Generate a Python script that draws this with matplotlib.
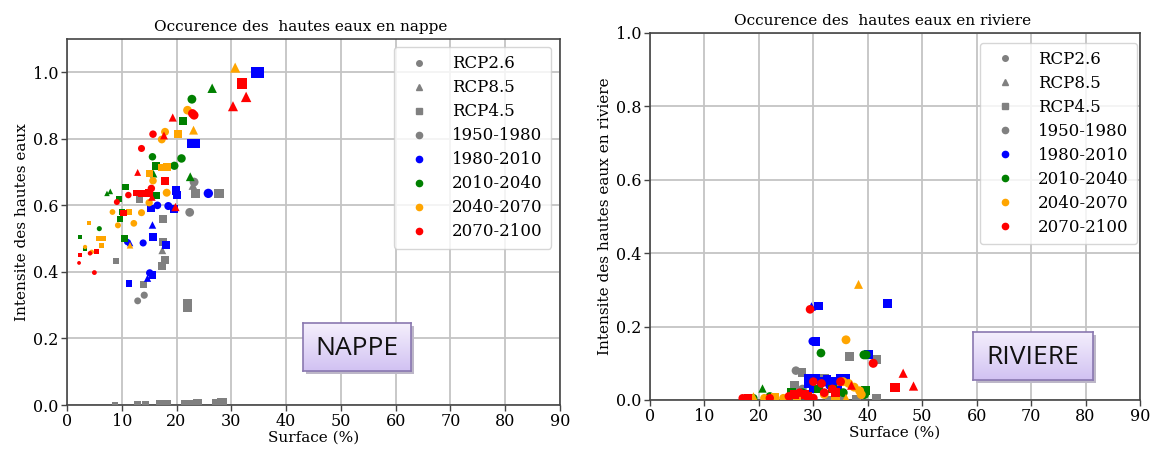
import matplotlib
matplotlib.use("Agg")
import matplotlib.pyplot as plt
import numpy as np
from matplotlib.lines import Line2D

# ---------------- data ----------------
periods = ["1950-1980", "1980-2010", "2010-2040", "2040-2070", "2070-2100"]
period_colors = ["grey", "blue", "green", "orange", "red"]
scenarios = ["RCP2.6", "RCP8.5", "RCP4.5"]
scenario_markers = {"RCP2.6": "o", "RCP8.5": "^", "RCP4.5": "s"}

# NAPPE panel : surface (%), intensity, scenario code (o=RCP2.6, ^=RCP8.5, s=RCP4.5)
nappe_1950_x = [23.2, 23.0, 23.4, 27.8, 13.2, 22.4, 17.6, 8.9, 17.5, 17.4, 17.9, 17.4, 13.9, 14.1, 12.9, 22.0, 22.0,
                8.8, 12.8, 14.3, 17.0, 18.3, 21.6, 22.5, 23.8, 27.4, 28.3]
nappe_1950_y = [0.670, 0.660, 0.636, 0.636, 0.619, 0.579, 0.559, 0.432, 0.490, 0.465, 0.435, 0.417, 0.363, 0.330, 0.313, 0.307, 0.293,
                0.000, 0.002, 0.002, 0.002, 0.002, 0.002, 0.002, 0.004, 0.005, 0.005]
nappe_1950_s = "o^sssosss^sssoosssssssssss" + "s"

nappe_1980_x = [34.5, 34.9, 22.8, 23.5, 19.9, 20.1, 25.8, 15.3, 16.5, 18.5, 19.6, 15.6, 11.0, 11.5, 13.9, 15.7, 18.1, 15.6, 15.1, 14.7, 11.3]
nappe_1980_y = [1.000, 1.000, 0.786, 0.786, 0.645, 0.632, 0.636, 0.590, 0.600, 0.598, 0.589, 0.541, 0.490, 0.487, 0.487, 0.505, 0.480, 0.390, 0.397, 0.381, 0.365]
nappe_1980_s = "sssssso" + "soos^o^ossso^s"

nappe_2010_x = [26.5, 22.8, 21.2, 15.6, 20.9, 19.6, 16.2, 15.8, 22.5, 7.3, 7.9, 10.7, 16.2, 9.5, 10.0, 9.6, 2.4, 10.5, 3.3, 5.9]
nappe_2010_y = [0.952, 0.919, 0.854, 0.746, 0.741, 0.719, 0.718, 0.695, 0.686, 0.636, 0.642, 0.656, 0.630, 0.619, 0.580, 0.560, 0.505, 0.500, 0.470, 0.530]
nappe_2010_s = "^osooos^^^^sssssssso"

nappe_2040_x = [30.7, 22.0, 23.1, 20.3, 17.9, 17.3, 17.4, 18.3, 15.1, 15.7, 18.2, 15.0, 13.6, 11.3, 8.3, 12.2, 9.3, 4.0, 5.7, 6.6, 3.3, 4.5, 6.3, 11.5]
nappe_2040_y = [1.014, 0.886, 0.826, 0.814, 0.821, 0.798, 0.714, 0.714, 0.696, 0.674, 0.638, 0.608, 0.578, 0.580, 0.580, 0.546, 0.540, 0.547, 0.500, 0.500, 0.475, 0.460, 0.480, 0.480]
nappe_2040_s = "^o^soosssoooosooossso" + "os^"

nappe_2070_x = [31.9, 32.7, 30.3, 23.2, 22.9, 19.3, 15.7, 17.7, 13.6, 12.9, 17.9, 15.4, 12.6, 13.6, 15.0, 11.2, 15.5, 9.1, 19.8, 10.3, 5.4, 2.4, 4.2, 2.2, 5.0, 7.0]
nappe_2070_y = [0.966, 0.926, 0.898, 0.871, 0.876, 0.864, 0.814, 0.810, 0.771, 0.699, 0.673, 0.651, 0.637, 0.637, 0.637, 0.631, 0.625, 0.610, 0.595, 0.578, 0.460, 0.450, 0.456, 0.427, 0.398, 0.540]
nappe_2070_s = "s^^oo^o^o^soss" + "so^o^sssooo"

# RIVIERE panel
riv_1950_x = [26.8, 27.9, 36.6, 41.6, 41.6, 26.5, 28.0, 32.0, 33.0, 35.0, 38.0, 34.0]
riv_1950_y = [0.080, 0.075, 0.119, 0.111, 0.005, 0.040, 0.030, 0.060, 0.000, 0.000, 0.002, 0.050]
riv_1950_s = "osssssosssss"

riv_1980_x = [43.6, 30.9, 29.6, 29.9, 30.5, 40.1, 29.0, 29.0, 30.5, 31.5, 32.5, 33.5, 35.0, 36.0, 33.0, 30.0, 34.5]
riv_1980_y = [0.262, 0.256, 0.257, 0.160, 0.160, 0.123, 0.060, 0.045, 0.060, 0.050, 0.055, 0.050, 0.060, 0.060, 0.040, 0.030, 0.025]
riv_1980_s = "ss^oss" + "ssssssssoss"

riv_2010_x = [31.4, 39.7, 39.3, 20.5, 39.6, 39.4, 31.0, 33.5, 26.0, 22.0, 19.0, 28.0, 35.5]
riv_2010_y = [0.128, 0.123, 0.123, 0.032, 0.025, 0.015, 0.030, 0.030, 0.020, 0.010, 0.005, 0.020, 0.020]
riv_2010_s = "ooo^sosssoooo"

riv_2040_x = [38.3, 36.0, 35.5, 36.5, 37.5, 38.5, 38.8, 19.0, 21.0, 23.0, 24.5, 27.0, 29.5, 32.0, 34.0, 36.0]
riv_2040_y = [0.315, 0.164, 0.050, 0.045, 0.035, 0.025, 0.015, 0.010, 0.005, 0.008, 0.005, 0.010, 0.005, 0.015, 0.010, 0.005]
riv_2040_s = "^oooooo^ososoos^"

riv_2070_x = [29.4, 41.0, 46.5, 45.0, 48.4, 37.0, 35.0, 33.5, 34.0, 30.0, 31.5, 17.0, 18.0, 22.0, 25.5, 26.5, 27.5, 28.5, 29.0, 32.0, 30.0]
riv_2070_y = [0.247, 0.100, 0.073, 0.035, 0.038, 0.040, 0.050, 0.030, 0.020, 0.050, 0.045, 0.005, 0.005, 0.005, 0.010, 0.015, 0.020, 0.015, 0.010, 0.020, 0.005]
riv_2070_s = "oo^s^^oosoo" + "osoosossoo^"

xticks = [0, 10, 20, 30, 40, 50, 60, 70, 80, 90]

nappe = [(nappe_1950_x, nappe_1950_y, nappe_1950_s), (nappe_1980_x, nappe_1980_y, nappe_1980_s),
         (nappe_2010_x, nappe_2010_y, nappe_2010_s), (nappe_2040_x, nappe_2040_y, nappe_2040_s),
         (nappe_2070_x, nappe_2070_y, nappe_2070_s)]
riviere = [(riv_1950_x, riv_1950_y, riv_1950_s), (riv_1980_x, riv_1980_y, riv_1980_s),
           (riv_2010_x, riv_2010_y, riv_2010_s), (riv_2040_x, riv_2040_y, riv_2040_s),
           (riv_2070_x, riv_2070_y, riv_2070_s)]

# ---------------- figure ----------------
plt.rcParams['font.family'] = ['DejaVu Serif']
W, H = 1154, 450
fig = plt.figure(figsize=(W / 100, H / 100), dpi=100)


def px_axes(x0, y0, x1, y1):
    return fig.add_axes([x0 / W, 1 - y1 / H, (x1 - x0) / W, (y1 - y0) / H])


def draw_panel(ax, data, size_fn, ylim, title, ylabel, leg_anchor):
    for (xs, ys, ss), col in zip(data, period_colors):
        xs = np.asarray(xs, float)
        ys = np.asarray(ys, float)
        n = min(len(xs), len(ys), len(ss))
        codes = np.array(list(ss[:n]))
        for m in "o^s":
            sel = codes == m
            if sel.any():
                ax.scatter(xs[:n][sel], ys[:n][sel], s=size_fn(xs[:n][sel]), marker=m,
                           color=col, linewidths=0, zorder=3)
    ax.set_xlim(0, 90)
    ax.set_ylim(*ylim)
    ax.set_xticks(xticks)
    ax.set_yticks([0.0, 0.2, 0.4, 0.6, 0.8, 1.0])
    ax.grid(True, color='#c4c4c4', lw=1.3, zorder=0)
    ax.set_axisbelow(True)
    for sp in ax.spines.values():
        sp.set_color('#444444')
        sp.set_linewidth(1.2)
    ax.tick_params(labelsize=11.5, color='#444444', width=1.0, length=4, pad=2)
    ax.set_title(title, fontsize=11, pad=6, x=0.474)
    ax.set_xlabel("Surface (%)", fontsize=11, labelpad=0)
    ax.set_ylabel(ylabel, fontsize=11, labelpad=3)
    handles = [Line2D([], [], ls='none', marker=scenario_markers[s], color='grey', markersize=4) for s in scenarios]
    handles += [Line2D([], [], ls='none', marker='o', color=c, markersize=4.5) for c in period_colors]
    labels = scenarios + periods
    ax.legend(handles, labels, loc='upper right', fontsize=12, handletextpad=1.0,
              borderpad=0.5, labelspacing=0.42, framealpha=0.8, edgecolor='#cccccc',
              borderaxespad=0, bbox_to_anchor=leg_anchor)


ax1 = px_axes(67, 39, 560, 405)
draw_panel(ax1, nappe, lambda x: 4 + 1.6 * x, (0, 1.1),
           "Occurence des  hautes eaux en nappe", "Intensite des hautes eaux", (0.982, 0.978))

ax2 = px_axes(650, 33, 1140, 400)
draw_panel(ax2, riviere, lambda x: 30 + 0.3 * x, (0, 1.0),
           "Occurence des  hautes eaux en riviere", "Intensite des hautes eaux en riviere", (0.994, 0.974))


def label_box(x0, y0, x1, y1, text):
    sh = px_axes(x0 + 3, y0 + 3, x1 + 3, y1 + 3)
    sh.set_facecolor('#bdb7c8')
    sh.set_xticks([]); sh.set_yticks([])
    for sp in sh.spines.values():
        sp.set_visible(False)
    b = px_axes(x0, y0, x1, y1)
    grad = np.linspace(0, 1, 100).reshape(-1, 1)
    top = np.array([0.96, 0.94, 0.99])
    bot = np.array([0.82, 0.76, 0.95])
    img = top[None, None, :] * (1 - grad[:, :, None]) + bot[None, None, :] * grad[:, :, None]
    b.imshow(img, aspect='auto', extent=(0, 1, 0, 1))
    b.set_xlim(0, 1); b.set_ylim(0, 1)
    b.set_xticks([]); b.set_yticks([])
    for sp in b.spines.values():
        sp.set_color('#8a78b0')
        sp.set_linewidth(1.2)
    b.text(0.5, 0.47, text, ha='center', va='center', fontsize=19,
           family=['Open Sans', 'DejaVu Sans'], color='#111111')


label_box(303, 323, 411, 371, "NAPPE")
label_box(973, 332, 1093, 380, "RIVIERE")

fig.savefig("out.png", dpi=100)
